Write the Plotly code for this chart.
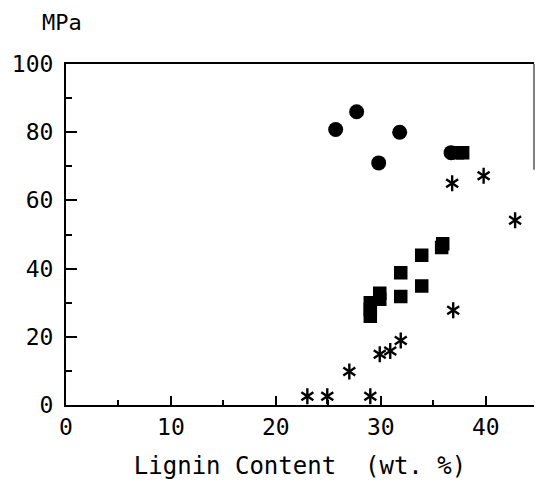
import plotly.graph_objects as go

# Tensile strength (MPa) against lignin content (wt. %)
circle_x = [25.7, 27.7, 29.8, 31.8, 36.7]
circle_y = [80.8, 86.0, 71.0, 80.0, 74.0]

square_x = [29.0, 29.0, 29.0, 29.9, 29.9, 31.9, 31.9, 33.9, 33.9, 35.8, 35.9, 37.3, 37.8]
square_y = [26.0, 28.0, 30.0, 31.0, 32.8, 31.8, 38.8, 34.9, 43.9, 46.2, 47.3, 74.0, 74.0]

star_x = [23.0, 24.9, 29.0, 27.0, 29.9, 30.9, 31.9, 36.9, 36.8, 39.8, 42.8]
star_y = [2.6, 2.6, 2.6, 9.8, 14.9, 15.8, 18.9, 27.8, 65.0, 67.2, 54.2]

x_ticks = [0, 10, 20, 30, 40]
y_ticks = [0, 20, 40, 60, 80, 100]

FONT = "DejaVu Sans Mono"
INK = "black"

fig = go.Figure()

fig.add_trace(go.Scatter(
    x=circle_x, y=circle_y, mode="markers",
    marker=dict(symbol="circle", size=15, color=INK, line=dict(width=0)),
))
fig.add_trace(go.Scatter(
    x=square_x, y=square_y, mode="markers",
    marker=dict(symbol="square", size=12, color=INK, line=dict(width=1.5, color=INK)),
))
# six-armed asterisk built from two three-armed symbols
for sym in ("y-up-open", "y-down-open"):
    fig.add_trace(go.Scatter(
        x=star_x, y=star_y, mode="markers",
        marker=dict(symbol=sym, size=10, color=INK, line=dict(width=2.4, color=INK)),
    ))

fig.update_layout(
    width=535, height=481,
    margin=dict(l=66, r=1, t=64, b=76),
    paper_bgcolor="white", plot_bgcolor="white",
    showlegend=False,
    font=dict(family=FONT, color=INK, size=22),
)

fig.update_xaxes(
    range=[0, 44.6], tickvals=x_ticks, ticktext=[str(v) for v in x_ticks],
    showgrid=False, zeroline=False,
    showline=True, linecolor=INK, linewidth=2, mirror=True,
    ticks="inside", ticklen=9, tickwidth=2, tickcolor=INK,
    minor=dict(ticks="inside", ticklen=5, tickwidth=2, tickcolor=INK, dtick=5, tick0=0),
    tickfont=dict(family=FONT, size=23),
    title=dict(text="Lignin Content\u00a0\u00a0(wt. %)", font=dict(family=FONT, size=24), standoff=19),
)
fig.update_yaxes(
    range=[0, 100], tickvals=y_ticks, ticktext=[str(v) for v in y_ticks],
    showgrid=False, zeroline=False,
    showline=True, linecolor=INK, linewidth=2,
    ticks="inside", ticklen=11, tickwidth=2, tickcolor=INK,
    minor=dict(ticks="inside", ticklen=6, tickwidth=2, tickcolor=INK, dtick=10, tick0=0),
    tickfont=dict(family=FONT, size=23),
    ticklabelstandoff=6,
)

# short right-hand border segment at the top of the frame
fig.add_shape(
    type="line", xref="paper", yref="y", x0=1, x1=1, y0=69, y1=100,
    line=dict(color="#555555", width=1.5),
)

fig.add_annotation(
    text="MPa", xref="paper", yref="paper", x=-0.009, y=1.0, yshift=42,
    xanchor="center", yanchor="middle", showarrow=False,
    font=dict(family=FONT, size=22, color=INK),
)

fig.write_html("out.html")
